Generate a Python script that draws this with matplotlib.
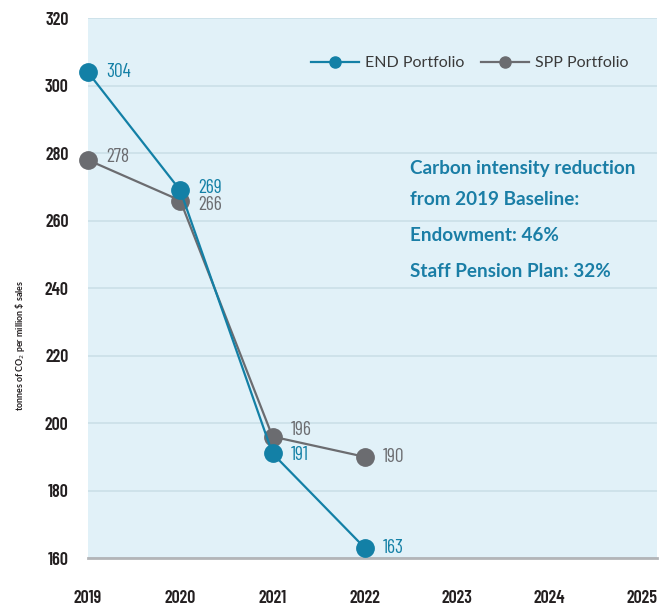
import matplotlib
matplotlib.use("Agg")
import matplotlib.pyplot as plt
from matplotlib.lines import Line2D

years = [2019, 2020, 2021, 2022]
end_values = [304, 269, 191, 163]
spp_values = [278, 266, 196, 190]
x_ticks = [2019, 2020, 2021, 2022, 2023, 2024, 2025]
y_ticks = [160, 180, 200, 220, 240, 260, 280, 300, 320]
series_names = ["END Portfolio", "SPP Portfolio"]
note_lines = ["Carbon intensity reduction", "from 2019 Baseline:", "Endowment: 46%", "Staff Pension Plan: 32%"]

END_C = "#1380a6"
SPP_C = "#6b6c70"
BG = "#e1f1f8"
GRID = "#cbdfe8"

cond = ["Barlow Condensed", "DejaVu Sans"]
sans = ["Lato", "DejaVu Sans"]

fig = plt.figure(figsize=(6.72, 6.07), dpi=100)
ax = fig.add_axes([0.131, 0.0807, 0.847, 0.889])
ax.set_facecolor(BG)
ax.set_xlim(2019, 2025.17)
ax.set_ylim(160, 320)
ax.set_yticks(y_ticks)
ax.set_xticks(x_ticks)
ax.grid(axis="y", color=GRID, linewidth=1.2)
ax.set_axisbelow(True)
for s in ["top", "right", "left"]:
    ax.spines[s].set_visible(False)
ax.spines["bottom"].set_color("#b3b5b8")
ax.spines["bottom"].set_linewidth(2)
ax.tick_params(axis="both", length=0)
ax.tick_params(axis="y", pad=14)
ax.tick_params(axis="x", pad=23)
for lab in ax.get_xticklabels() + ax.get_yticklabels():
    lab.set_family(cond)
    lab.set_fontweight(600)
    lab.set_fontsize(13)
    lab.set_color("#231f20")

ax.plot(years, spp_values, color=SPP_C, lw=1.6, marker="o", ms=12.5, clip_on=False, zorder=3)
ax.plot(years, end_values, color=END_C, lw=1.6, marker="o", ms=12.5, clip_on=False, zorder=4)

# data labels
end_off = [(13, 0), (13, 2), (13, -1), (13, 0)]
spp_off = [(13, 2), (13, -3), (13, 5), (13, 0)]
for x, y, (dx, dy) in zip(years, end_values, end_off):
    ax.annotate(str(y), (x, y), xytext=(dx, dy), textcoords="offset points",
                ha="left", va="center", color=END_C, fontsize=14, family=cond, zorder=5)
for x, y, (dx, dy) in zip(years, spp_values, spp_off):
    ax.annotate(str(y), (x, y), xytext=(dx, dy), textcoords="offset points",
                ha="left", va="center", color=SPP_C, fontsize=14, family=cond, zorder=5)

fig.text(20 / 672, 1 - 345 / 607, "tonnes of CO$_2$ per million \\$ sales", rotation=90,
         ha="center", va="center", fontsize=6.4, fontweight="bold", family=sans, color="#231f20")

handles = [Line2D([0], [0], color=END_C, lw=1.6, marker="o", ms=8),
           Line2D([0], [0], color=SPP_C, lw=1.6, marker="o", ms=8)]
leg = ax.legend(handles, series_names, loc="upper right", bbox_to_anchor=(0.975, 0.957), ncol=2,
                frameon=False, handlelength=3.0, columnspacing=1.0, handletextpad=0.4,
                prop={"family": sans, "size": 11.5})
for t in leg.get_texts():
    t.set_color("#3a3a3a")

note_y = [0.722, 0.665, 0.598, 0.531]
for txt, yy in zip(note_lines, note_y):
    ax.text(0.5665, yy, txt, transform=ax.transAxes, ha="left", va="center",
            fontsize=13.6, fontweight="bold", family=sans, color="#1a7ea6")

fig.savefig("out.png", dpi=100)
